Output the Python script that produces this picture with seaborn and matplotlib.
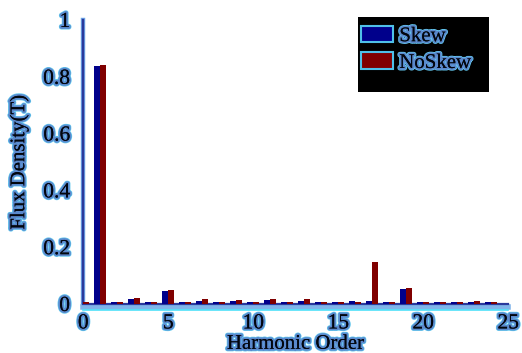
import numpy as np
import pandas as pd
import seaborn as sns
import matplotlib
matplotlib.use("Agg")
import matplotlib.pyplot as plt
import matplotlib.patheffects as pe
from matplotlib.patches import Rectangle

# Harmonic spectrum of the air-gap flux density
harmonics = list(range(0, 25))
skew = [0.002, 0.839, 0.008, 0.019, 0.008, 0.046, 0.008, 0.012, 0.008, 0.010,
        0.007, 0.013, 0.008, 0.011, 0.007, 0.008, 0.010, 0.011, 0.006, 0.053,
        0.007, 0.007, 0.007, 0.008, 0.007]
noskew = [0.006, 0.841, 0.007, 0.020, 0.008, 0.049, 0.007, 0.017, 0.008, 0.013,
          0.008, 0.017, 0.008, 0.019, 0.008, 0.008, 0.008, 0.149, 0.008, 0.057,
          0.008, 0.008, 0.008, 0.012, 0.008]
series_names = ["Skew", "NoSkew"]
x_ticks = [0, 5, 10, 15, 20, 25]
y_ticks = [0, 0.2, 0.4, 0.6, 0.8, 1]
y_tick_labels = ["0", "0.2", "0.4", "0.6", "0.8", "1"]

df = pd.DataFrame({
    "harmonic": harmonics * 2,
    "flux": skew + noskew,
    "series": [series_names[0]] * len(harmonics) + [series_names[1]] * len(harmonics),
})

sns.set_style("white")
plt.rcParams["font.family"] = "serif"
plt.rcParams["font.serif"] = ["Liberation Serif", "Times New Roman", "DejaVu Serif"]

halo = [pe.withStroke(linewidth=3.6, foreground="#62c8ee"),
        pe.withStroke(linewidth=2.6, foreground="#5a88cc"),
        pe.Normal()]
txt_color = "#02060e"
axis_color = "#2a3a9c"

fig = plt.figure(figsize=(5.22, 3.53), dpi=100)
ax = fig.add_axes([0.1596, 0.1388, 0.814, 0.8045])

sns.barplot(data=df, x="harmonic", y="flux", hue="series", native_scale=True,
            width=0.7, palette=["#00008b", "#800000"], saturation=1,
            errorbar=None, ax=ax, linewidth=0, zorder=3)

ax.set_xlim(0, 25)
ax.set_ylim(0, 1)
ax.set_xticks(x_ticks)
ax.set_xticklabels([str(t) for t in x_ticks])
ax.set_yticks(y_ticks)
ax.set_yticklabels(y_tick_labels)

for side in ("top", "right"):
    ax.spines[side].set_visible(False)
for side in ("left", "bottom"):
    ax.spines[side].set_color(axis_color)
    ax.spines[side].set_linewidth(1.6)
ax.spines["bottom"].set_path_effects([
    pe.Stroke(offset=(0, -2.5), linewidth=4, foreground="#7fb4ea"),
    pe.Stroke(offset=(0, -4.5), linewidth=1.2, foreground="#4fe0f8"),
    pe.Normal()])
ax.spines["left"].set_path_effects([
    pe.withStroke(linewidth=3.2, foreground="#6fa8ea"), pe.Normal()])

ax.tick_params(axis="both", direction="out", length=3.5, width=1.2,
               color=axis_color, labelsize=15.5, labelcolor=txt_color)
ax.tick_params(axis="y", pad=6)
ax.tick_params(axis="x", pad=4)
for lbl in ax.get_xticklabels() + ax.get_yticklabels():
    lbl.set_path_effects(halo)

ax.set_xlabel("Harmonic Order", fontsize=15, color=txt_color, labelpad=1,
              path_effects=halo)
ax.set_ylabel("Flux Density(T)", fontsize=15, color=txt_color, labelpad=10,
              path_effects=halo)

# Legend on a solid black panel
ax.add_patch(Rectangle((0.646, 0.746), 0.309, 0.265, transform=ax.transAxes,
                       facecolor="black", edgecolor="none", zorder=5,
                       clip_on=False))
leg = ax.legend(loc="upper left", bbox_to_anchor=(0.653, 0.98), fontsize=15,
                frameon=False, handlelength=1.55, handleheight=0.85,
                borderpad=0, labelspacing=0.3, handletextpad=0.3,
                borderaxespad=0)
leg.set_zorder(6)
for h in leg.legend_handles:
    h.set_edgecolor("#4fc0e8")
    h.set_linewidth(1.5)
for t in leg.get_texts():
    t.set_color(txt_color)
    t.set_path_effects(halo)

fig.savefig("out.png", dpi=100, facecolor="white")
